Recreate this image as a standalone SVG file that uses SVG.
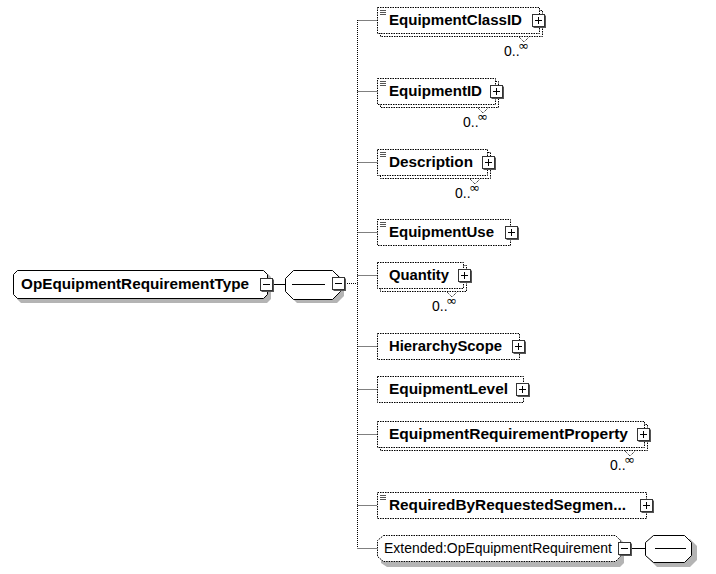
<svg xmlns="http://www.w3.org/2000/svg" width="716" height="574" viewBox="0 0 716 574">
<style>
.bg{fill:#ffffff}
.lbl{font-family:"Liberation Sans",Arial,sans-serif;font-size:14px;font-weight:bold;fill:#000}
.ext{font-family:"Liberation Sans",Arial,sans-serif;font-size:14px;fill:#000}
.occ{font-family:"Liberation Sans",Arial,sans-serif;font-size:14px;fill:#000}
.inf{font-family:"DejaVu Sans",sans-serif;font-size:13px;fill:#000}
.box{fill:#fff;stroke:#000;stroke-width:1;stroke-dasharray:1.5,1}
.solid{fill:#fff;stroke:#000;stroke-width:1}
.shadow{fill:#b4b4b4}
.conn{fill:none;stroke:#000;stroke-width:1;stroke-dasharray:1,1}
.line{fill:none;stroke:#000;stroke-width:1}
.btnsh{fill:#555}
.btn{fill:#fff;stroke:#333;stroke-width:1}
.doc{stroke:#555;stroke-width:1}
</style>
<defs>
<g id="plus"><rect class="btnsh" x="1.5" y="1.5" width="12.5" height="12.5"/><rect class="btn" x="0.5" y="0.5" width="12" height="12"/><path class="line" d="M3 6.5H10M6.5 3V10"/></g>
<g id="minus"><rect class="btnsh" x="1.5" y="1.5" width="12.5" height="12.5"/><rect class="btn" x="0.5" y="0.5" width="12" height="12"/><path class="line" d="M3 6.5H10"/></g>
<g id="doc"><path class="doc" d="M3 3.5H9M3 5.5H9M3 7.5H9"/></g>
<g id="many"><path class="conn" d="M-5 0L0 5L5 0"/></g>
</defs>
<rect class="bg" x="0" y="0" width="716" height="574"/>

<g id="connectors">
<path class="line" d="M273 284.5H285"/>
<path class="conn" d="M345 283.5H357.5"/>
<path class="conn" d="M357.5 20V548"/>
<path class="conn" d="M357.5 20.5H377M357.5 91.5H377M357.5 162.5H377M357.5 232.5H377M357.5 275.5H377M357.5 346.5H377M357.5 389.5H377M357.5 434.5H377M357.5 505.5H377M357.5 548.5H377"/>
<path class="line" d="M632 548.5H645"/>
</g>

<g id="root">
<path class="shadow" d="M22 274H268L271 277V299L267 303H21L17 299V278Z"/>
<path class="solid" d="M17.5 270.5H263.5L267.5 274.5V294.5L263.5 298.5H17.5L13.5 294.5V274.5Z"/>
<text class="lbl" x="21" y="289" textLength="228" lengthAdjust="spacingAndGlyphs">OpEquipmentRequirementType</text>
<use href="#minus" x="260" y="278"/>
</g>

<g id="sequence">
<path class="shadow" d="M297 274H337L344 281V296L337 303H297L290 296V281Z"/>
<path class="solid" d="M293.5 270.5H332.5L340.5 278.5V291.5L332.5 299.5H293.5L285.5 291.5V278.5Z"/>
<path class="line" d="M292 284.5H325"/>
<use href="#minus" x="332" y="277"/>
</g>

<g id="EquipmentClassID">
<rect class="box" x="380.5" y="10.5" width="162" height="26"/>
<rect class="box" x="377.5" y="7.5" width="162" height="26"/>
<use href="#doc" x="377" y="7"/>
<text class="lbl" x="389" y="25" textLength="133" lengthAdjust="spacingAndGlyphs">EquipmentClassID</text>
<use href="#plus" x="532" y="14"/>
<use href="#many" x="524" y="37"/>
<text class="occ" x="504" y="56">0..</text><text class="inf" x="518" y="50">∞</text>
</g>

<g id="EquipmentID">
<rect class="box" x="380.5" y="81.5" width="118" height="26"/>
<rect class="box" x="377.5" y="78.5" width="118" height="26"/>
<use href="#doc" x="377" y="78"/>
<text class="lbl" x="389" y="96" textLength="93" lengthAdjust="spacingAndGlyphs">EquipmentID</text>
<use href="#plus" x="490" y="85"/>
<use href="#many" x="483" y="108"/>
<text class="occ" x="463" y="127">0..</text><text class="inf" x="477" y="121">∞</text>
</g>

<g id="Description">
<rect class="box" x="380.5" y="152.5" width="110" height="26"/>
<rect class="box" x="377.5" y="149.5" width="110" height="26"/>
<use href="#doc" x="377" y="149"/>
<text class="lbl" x="389" y="167" textLength="84" lengthAdjust="spacingAndGlyphs">Description</text>
<use href="#plus" x="482" y="156"/>
<use href="#many" x="475" y="179"/>
<text class="occ" x="455" y="198">0..</text><text class="inf" x="469" y="192">∞</text>
</g>

<g id="EquipmentUse">
<rect class="box" x="377.5" y="219.5" width="133" height="26"/>
<use href="#doc" x="377" y="219"/>
<text class="lbl" x="389" y="237" textLength="105" lengthAdjust="spacingAndGlyphs">EquipmentUse</text>
<use href="#plus" x="505" y="226"/>
</g>

<g id="Quantity">
<rect class="box" x="380.5" y="265.5" width="86" height="26"/>
<rect class="box" x="377.5" y="262.5" width="86" height="26"/>
<text class="lbl" x="389" y="280" textLength="60" lengthAdjust="spacingAndGlyphs">Quantity</text>
<use href="#plus" x="458" y="269"/>
<use href="#many" x="452" y="292"/>
<text class="occ" x="432" y="311">0..</text><text class="inf" x="446" y="305">∞</text>
</g>

<g id="HierarchyScope">
<rect class="box" x="377.5" y="333.5" width="142" height="26"/>
<text class="lbl" x="389" y="351" textLength="113" lengthAdjust="spacingAndGlyphs">HierarchyScope</text>
<use href="#plus" x="512" y="340"/>
</g>

<g id="EquipmentLevel">
<rect class="box" x="377.5" y="376.5" width="146" height="26"/>
<text class="lbl" x="389" y="394" textLength="119" lengthAdjust="spacingAndGlyphs">EquipmentLevel</text>
<use href="#plus" x="516" y="383"/>
</g>

<g id="EquipmentRequirementProperty">
<rect class="box" x="380.5" y="424.5" width="267" height="26"/>
<rect class="box" x="377.5" y="421.5" width="267" height="26"/>
<text class="lbl" x="389" y="439" textLength="239" lengthAdjust="spacingAndGlyphs">EquipmentRequirementProperty</text>
<use href="#plus" x="637" y="428"/>
<use href="#many" x="630" y="451"/>
<text class="occ" x="610" y="470">0..</text><text class="inf" x="624" y="464">∞</text>
</g>

<g id="RequiredByRequestedSegment">
<rect class="box" x="377.5" y="492.5" width="269" height="26"/>
<use href="#doc" x="377" y="492"/>
<text class="lbl" x="389" y="510" textLength="237" lengthAdjust="spacingAndGlyphs">RequiredByRequestedSegmen...</text>
<use href="#plus" x="640" y="499"/>
</g>

<g id="Extended">
<path class="shadow" d="M387 539H620L624 543V563L620 567H387L381 563V543Z"/>
<path class="box" d="M383.5 535.5H615.5L620.5 540.5V556.5L615.5 561.5H383.5L377.5 556.5V540.5Z"/>
<text class="ext" x="384" y="553" textLength="228" lengthAdjust="spacingAndGlyphs">Extended:OpEquipmentRequirement</text>
<use href="#minus" x="618" y="542"/>
</g>

<g id="extSequence">
<path class="shadow" d="M657 539H690L697 546V560L690 567H657L650 560V546Z"/>
<path class="solid" d="M653.5 535.5H684.5L691.5 542.5V555.5L684.5 562.5H653.5L645.5 555.5V542.5Z"/>
<path class="line" d="M655 548.5H686"/>
</g>
</svg>
